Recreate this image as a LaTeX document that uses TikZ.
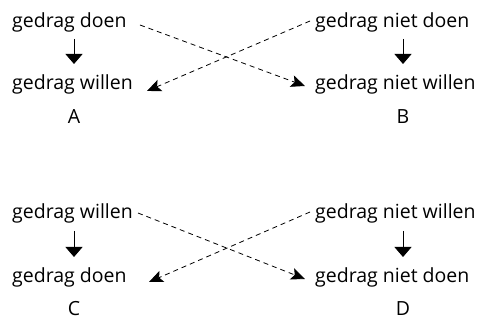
\documentclass[tikz,border=0pt]{standalone}
\usepackage{fontspec}
\setmainfont{Open Sans}
\usetikzlibrary{arrows.meta,calc}
\tikzset{
  txt/.style={anchor=base west, inner sep=0pt, font=\fontsize{19.5}{23}\selectfont},
  lab/.style={anchor=base, inner sep=0pt, font=\fontsize{19.5}{23}\selectfont},
  down/.style={line width=0.8pt, -{Triangle[width=17pt,length=10pt]}},
  cross/.style={line width=0.8pt, dash pattern=on 5pt off 4pt, -{Stealth[length=14pt,width=12pt,inset=3pt]}}
}
\begin{document}
\begin{tikzpicture}[x=1pt,y=-1pt]
\useasboundingbox (0,0) rectangle (485,320);
% top
\node[txt] (a1) at (12,28) {gedrag doen};
\node[txt] (a2) at (12,90) {gedrag willen};
\node[lab] (la) at (74,124) {A};
\node[txt] (b1) at (315,28) {gedrag niet doen};
\node[txt] (b2) at (315,90) {gedrag niet willen};
\node[lab] (lb) at (403,124) {B};
\draw[down] ($(la |- a1.base)+(0,11)$) -- ($(la |- a2.base)+(0,-26)$);
\draw[down] ($(lb |- b1.base)+(0,11)$) -- ($(lb |- b2.base)+(0,-26)$);
\draw[cross] ($(a1.base west)+(128,-3)$) -- ($(b2.base west)+(-10,-4)$);
\draw[cross] ($(b1.base west)+(-5,-7)$) -- ($(a2.base west)+(135,1)$);
% bottom
\node[txt] (c1) at (12,219) {gedrag willen};
\node[txt] (c2) at (12,283) {gedrag doen};
\node[lab] (lc) at (74,316) {C};
\node[txt] (d1) at (315,219) {gedrag niet willen};
\node[txt] (d2) at (315,283) {gedrag niet doen};
\node[lab] (ld) at (403,316) {D};
\draw[down] ($(lc |- c1.base)+(0,12)$) -- ($(lc |- c2.base)+(0,-26)$);
\draw[down] ($(ld |- d1.base)+(0,12)$) -- ($(ld |- d2.base)+(0,-26)$);
\draw[cross] ($(c1.base west)+(126,-6)$) -- ($(d2.base west)+(-10,-4)$);
\draw[cross] ($(d1.base west)+(-5,-7)$) -- ($(c2.base west)+(137,-1)$);
\end{tikzpicture}
\end{document}
